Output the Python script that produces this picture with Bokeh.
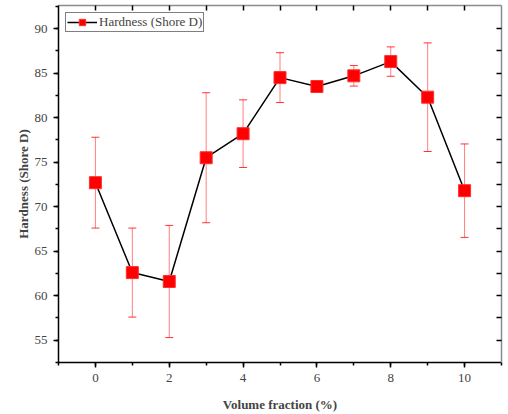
from bokeh.plotting import figure
from bokeh.models import (LinearAxis, SingleIntervalTicker, FixedTicker, Range1d, Whisker, TeeHead,
                          ColumnDataSource, Legend, LegendItem)
from bokeh.embed import file_html
from bokeh.resources import INLINE

# Data
volume_fraction = [0, 1, 2, 3, 4, 5, 6, 7, 8, 9, 10]
hardness = [72.7, 62.6, 61.6, 75.5, 78.2, 84.5, 83.5, 84.7, 86.3, 82.3, 71.8]
hardness_err = [5.1, 5.0, 6.3, 7.3, 3.8, 2.8, 0.0, 1.15, 1.65, 6.1, 5.25]

lower = [h - e for h, e in zip(hardness, hardness_err)]
upper = [h + e for h, e in zip(hardness, hardness_err)]
src = ColumnDataSource(dict(x=volume_fraction, y=hardness, lower=lower, upper=upper))

FONT = "Liberation Serif"
X_MIN, X_MAX = -1, 11
Y_MIN, Y_MAX = 52.5, 92.6

p = figure(width=508, height=414, output_backend="svg", toolbar_location=None,
           x_range=Range1d(X_MIN, X_MAX), y_range=Range1d(Y_MIN, Y_MAX),
           min_border_left=58, min_border_right=7, min_border_top=5, min_border_bottom=51)
p.background_fill_color = "white"
p.border_fill_color = "white"
p.outline_line_color = None
p.xgrid.visible = False
p.ygrid.visible = False

# Bottom axis
xa = p.xaxis[0]
xa.ticker = SingleIntervalTicker(interval=2, num_minor_ticks=2)
xa.axis_label = "Volume fraction (%)"
xa.axis_label_text_font = FONT
xa.axis_label_text_font_style = "bold"
xa.axis_label_text_font_size = "13px"
xa.axis_label_standoff = 12
xa.major_label_text_font = FONT
xa.major_label_text_font_size = "13px"
xa.major_label_standoff = 6
xa.axis_line_width = 1.5
xa.major_tick_out = 5
xa.major_tick_in = 0
xa.minor_tick_out = 3
xa.minor_tick_in = 0
xa.major_tick_line_width = 1.5
xa.minor_tick_line_width = 1.5

# Left axis
ya = p.yaxis[0]
ya.ticker = SingleIntervalTicker(interval=5, num_minor_ticks=2)
ya.axis_label = "Hardness (Shore D)"
ya.axis_label_text_font = FONT
ya.axis_label_text_font_style = "bold"
ya.axis_label_text_font_size = "13px"
ya.axis_label_standoff = 1
ya.major_label_text_font = FONT
ya.major_label_text_font_size = "13px"
ya.major_label_standoff = 6
ya.axis_line_width = 1.5
ya.major_tick_out = 5
ya.major_tick_in = 0
ya.minor_tick_out = 3
ya.minor_tick_in = 0
ya.major_tick_line_width = 1.5
ya.minor_tick_line_width = 1.5

# Top and right axes: inward ticks only, no labels
top_ticks = list(range(0, 11))
right_ticks = [55 + 2.5 * i for i in range(15)]
top = LinearAxis(ticker=FixedTicker(ticks=[], minor_ticks=top_ticks))
right = LinearAxis(ticker=FixedTicker(ticks=[], minor_ticks=right_ticks))
for ax in (top, right):
    ax.major_tick_in = 0
    ax.major_tick_out = 0
    ax.minor_tick_in = 5
    ax.minor_tick_out = 0
    ax.axis_line_color = "#8c8c8c"
    ax.axis_line_width = 1.5
    ax.minor_tick_line_color = "black"
    ax.minor_tick_line_width = 1.5
p.add_layout(top, "above")
p.add_layout(right, "right")

# Error bars
wh = Whisker(source=src, base="x", lower="lower", upper="upper",
             line_color="red", line_alpha=0.5, line_width=1,
             upper_head=TeeHead(size=8, line_color="red", line_alpha=0.8, line_width=1),
             lower_head=TeeHead(size=8, line_color="red", line_alpha=0.8, line_width=1))
p.add_layout(wh)

ln = p.line("x", "y", source=src, line_color="black", line_width=1.5)
sq = p.scatter("x", "y", source=src, marker="square", size=12,
               fill_color="#ff0000", line_color="#ff3030", line_width=1)

legend = Legend(items=[LegendItem(label="Hardness (Shore D)", renderers=[ln, sq])],
                location="top_left")
legend.label_text_font = FONT
legend.label_text_font_size = "13px"
legend.border_line_color = "black"
legend.border_line_width = 1
legend.padding = 1
legend.margin = 7
legend.glyph_width = 30
legend.glyph_height = 16
legend.label_standoff = 2
legend.label_height = 16
legend.background_fill_alpha = 1
p.add_layout(legend)

open("out.html", "w").write(file_html(p, INLINE))
